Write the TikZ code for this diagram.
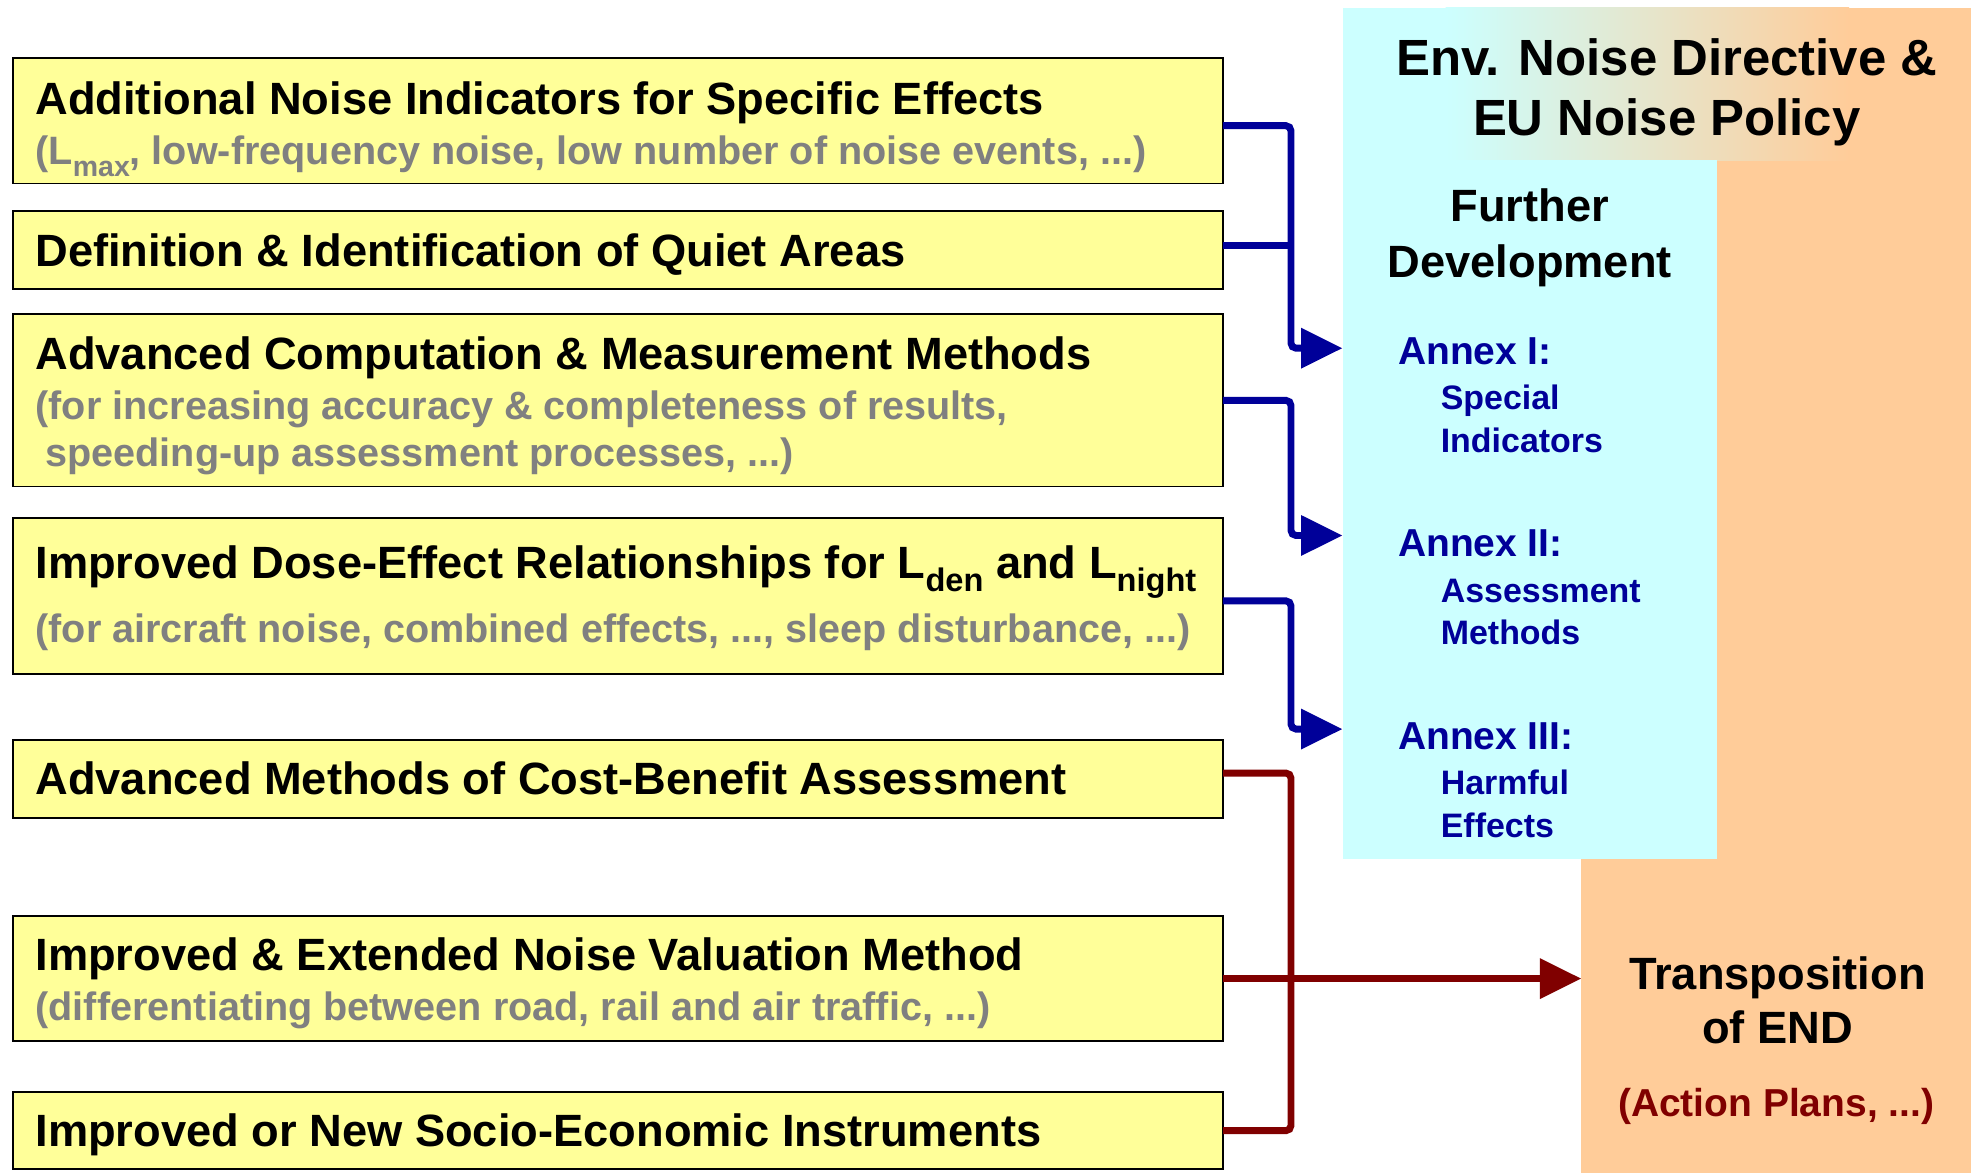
\documentclass[tikz,border=0pt]{standalone}
\usepackage{fontspec}
\setmainfont{Liberation Sans}
\usetikzlibrary{arrows.meta,calc}

\definecolor{boxyellow}{HTML}{FFFF99}
\definecolor{panelcyan}{HTML}{CCFFFF}
\definecolor{panelorange}{HTML}{FFCC99}
\definecolor{annexblue}{HTML}{000099}
\definecolor{planred}{HTML}{800000}
\definecolor{notegrey}{HTML}{808080}

% lowered, reduced index text (L_max, L_den, ...)
\newcommand\lsub[1]{\raisebox{-0.3em}{\scalebox{0.72}{#1}}}

\begin{document}
\begin{tikzpicture}[x=1pt,y=-1pt,
  topic/.style={draw=black, line width=1.5pt, fill=boxyellow, anchor=north west,
                inner sep=0pt, outer sep=0pt, minimum width=963pt},
  panel/.style={anchor=north west, inner sep=0pt, outer sep=0pt},
  head/.style={anchor=base west, inner sep=0pt, font=\bfseries\fontsize{36}{40}\selectfont},
  note/.style={anchor=base west, inner sep=0pt, text=notegrey, font=\bfseries\fontsize{31.5}{36}\selectfont},
  title/.style={anchor=base, inner sep=0pt, font=\bfseries\fontsize{40.5}{44}\selectfont},
  label/.style={anchor=base, inner sep=0pt, font=\bfseries\fontsize{36}{40}\selectfont},
  annex/.style={anchor=base west, inner sep=0pt, text=annexblue, font=\bfseries\fontsize{31}{36}\selectfont},
  annexsub/.style={anchor=base west, inner sep=0pt, text=annexblue, font=\bfseries\fontsize{27}{32}\selectfont},
  bluelink/.style={draw=annexblue, line width=5.5pt, rounded corners=4pt},
  redlink/.style={draw=planred, line width=5.5pt, rounded corners=4pt},
  tip/.style={-{Triangle[length=33pt,width=31pt]}}
]
\useasboundingbox (0,0) rectangle (1568,933);

% ---- right-hand panels ----
\node[panel, fill=panelorange, minimum width=310pt, minimum height=806pt] (orange) at (1258,127) {};
\fill[panelcyan] (1068,6) rectangle (1151,127.5);
\shade[left color=panelcyan, right color=panelorange] (1150,6) rectangle (1471,127.5);
\fill[panelorange] (1470,6) rectangle (1568,127.5);
\node[panel, fill=panelcyan, minimum width=298pt, minimum height=556pt] (cyan) at (1068,127) {};

\node[title] (hd1) at (1326,60) {Env. Noise Directive \&};
\node[title] (hd2) at (1326,108) {EU Noise Policy};

\node[label] (fd1) at (1217,176) {Further};
\node[label] (fd2) at (1217,221) {Development};

\node[annex] (ax1) at (1112,290) {Annex I:};
\node[annexsub] (ax1a) at (1146,326) {Special};
\node[annexsub] (ax1b) at (1146,360) {Indicators};
\node[annex] (ax2) at (1112,443) {Annex II:};
\node[annexsub] (ax2a) at (1146,479) {Assessment};
\node[annexsub] (ax2b) at (1146,513) {Methods};
\node[annex] (ax3) at (1112,596) {Annex III:};
\node[annexsub] (ax3a) at (1146,632) {Harmful};
\node[annexsub] (ax3b) at (1146,666) {Effects};

\node[label] (tr1) at (1414,787) {Transposition};
\node[label] (tr2) at (1414,830) {of END};
\node[label, text=planred, font=\bfseries\fontsize{31}{36}\selectfont] (tr3) at (1413,888) {(Action Plans, ...)};

% ---- research topics ----
\node[topic, minimum height=100pt] (b1) at (10,46) {};
\node[topic, minimum height=62pt]  (b2) at (10,168) {};
\node[topic, minimum height=137pt] (b3) at (10,250) {};
\node[topic, minimum height=124pt] (b4) at (10,412) {};
\node[topic, minimum height=62pt]  (b5) at (10,589) {};
\node[topic, minimum height=99pt]  (b6) at (10,729) {};
\node[topic, minimum height=61pt]  (b7) at (10,869) {};

\node[head] (t1) at (28,91) {Additional Noise Indicators for Specific Effects};
\node[note] (n1) at (28,131) {(L\lsub{max}, low-frequency noise, low number of noise events, ...)};
\node[head] (t2) at (28,212) {Definition \& Identification of Quiet Areas};
\node[head] (t3) at (28,294) {Advanced Computation \& Measurement Methods};
\node[note] (n3a) at (28,334) {(for increasing accuracy \& completeness of results,};
\node[note] (n3b) at (36,371) {speeding-up assessment processes, ...)};
\node[head] (t4) at (28,460) {Improved Dose-Effect Relationships for L\lsub{den} and L\lsub{night}};
\node[note] (n4) at (28,511) {(for aircraft noise, combined effects, ..., sleep disturbance, ...)};
\node[head] (t5) at (28,632) {Advanced Methods of Cost-Benefit Assessment};
\node[head] (t6) at (28,772) {Improved \& Extended Noise Valuation Method};
\node[note] (n6) at (28,812) {(differentiating between road, rail and air traffic, ...)};
\node[head] (t7) at (28,912) {Improved or New Socio-Economic Instruments};

% ---- connectors ----
\coordinate (jx) at (1027,0);
\coordinate (in1) at (1068,277);
\coordinate (in2) at (1068,426);
\coordinate (in3) at (1068,580);
% exit points on the right edges of the topic boxes
\coordinate (o1) at ($(b1.east)+(0,4)$);
\coordinate (o2) at ($(b2.east)+(0,-4)$);
\coordinate (o3) at (b3.east);
\coordinate (o4) at ($(b4.east)+(0,4)$);
\coordinate (o5) at ($(b5.east)+(0,-5)$);

\draw[bluelink, tip] (o1) -- (o1 -| jx) |- (in1);
\draw[bluelink] (o2) -- (o2 -| jx);
\draw[bluelink, tip] (o3) -- (o3 -| jx) |- (in2);
\draw[bluelink, tip] (o4) -- (o4 -| jx) |- (in3);

\draw[redlink] (o5) -- (o5 -| jx) -- (b7.east -| jx) -- (b7.east);
\draw[redlink, tip] (b6.east) -- (b6.east -| orange.west);
\end{tikzpicture}
\end{document}
